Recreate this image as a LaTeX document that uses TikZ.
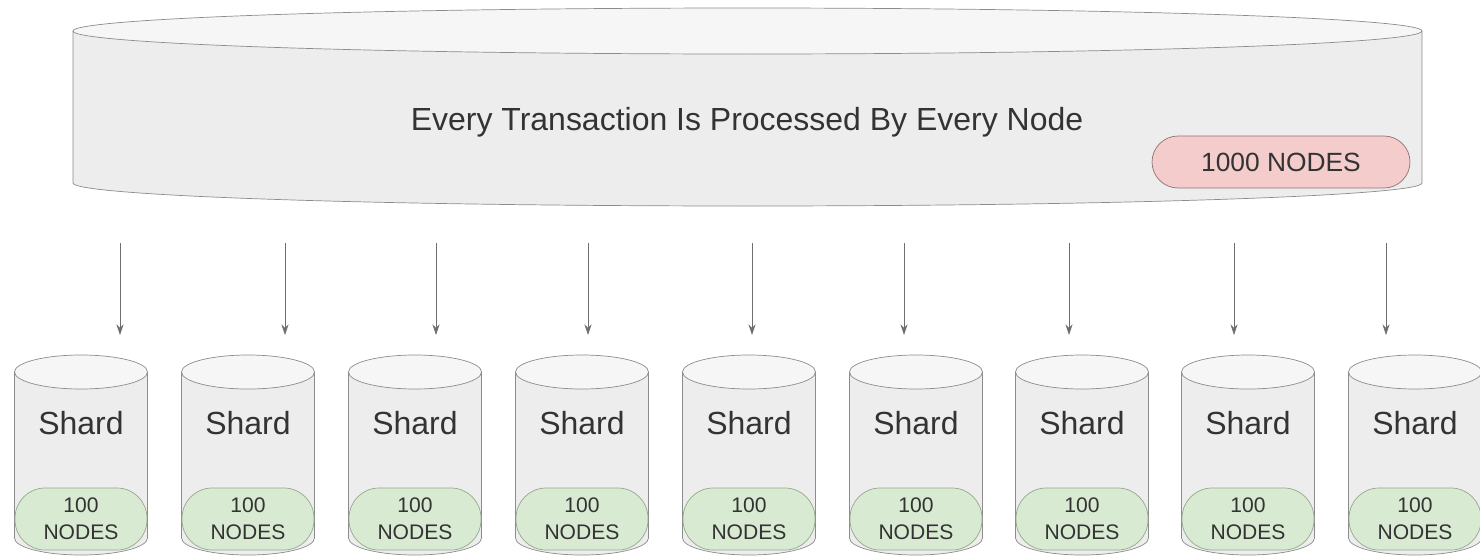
\documentclass[tikz,border=0pt]{standalone}
\usepackage{fontspec}
\setmainfont{Liberation Sans}
\usetikzlibrary{arrows.meta}

\definecolor{cylgrey}{HTML}{8C8C8C}
\definecolor{bodygrey}{HTML}{EDEDED}
\definecolor{endgrey}{HTML}{F6F6F6}
\definecolor{pillred}{HTML}{F4CCCC}
\definecolor{pillredline}{HTML}{8E7373}
\definecolor{pillgreen}{HTML}{D9EAD3}
\definecolor{pillgreenline}{HTML}{94A88C}
\definecolor{txtgrey}{HTML}{333333}
\definecolor{arrgrey}{HTML}{6E6E6E}

\tikzset{
  ledger/.style={minimum width=27.06cm, minimum height=4.06cm, inner sep=0pt,
    path picture={
      \begin{scope}[shift={(path picture bounding box.center)}]
        \fill[bodygrey] (-674.5, -76.5) -- (-674.5, 75.5)
          arc[start angle=180, end angle=0, x radius=674.5, y radius=23] -- (674.5, -76.5) -- cycle;
        \filldraw[fill=endgrey, draw=cylgrey] (0, -76.5) ellipse [x radius=674.5, y radius=23];
        \draw[cylgrey] (-674.5, -76.5) -- (-674.5, 75.5)
          arc[start angle=180, end angle=0, x radius=674.5, y radius=23] -- (674.5, -76.5);
      \end{scope}
    }},
  shard/.style={minimum width=2.7cm, minimum height=4.04cm, inner sep=0pt,
    path picture={
      \begin{scope}[shift={(path picture bounding box.center)}]
        \fill[bodygrey] (-66.5, -83) -- (-66.5, 83)
          arc[start angle=180, end angle=0, x radius=66.5, y radius=17] -- (66.5, -83) -- cycle;
        \filldraw[fill=endgrey, draw=cylgrey] (0, -83) ellipse [x radius=66.5, y radius=17];
        \draw[cylgrey] (-66.5, -83) -- (-66.5, 83)
          arc[start angle=180, end angle=0, x radius=66.5, y radius=17] -- (66.5, -83);
      \end{scope}
    }},
  bigpill/.style={draw=pillredline, fill=pillred, rounded corners=0.52cm,
    minimum width=5.16cm, minimum height=1.04cm, inner sep=0pt,
    text=txtgrey, font=\fontsize{15}{18}\selectfont},
  smallpill/.style={draw=pillgreenline, fill=pillgreen, rounded corners=0.6cm,
    minimum width=2.64cm, minimum height=1.24cm, inner sep=0pt, align=center,
    text=txtgrey, font=\fontsize{12}{15.4}\selectfont},
  txt/.style={text=txtgrey, font=\fontsize{18.2}{21}\selectfont},
  arr/.style={draw=arrgrey, -{Stealth[length=6pt,width=4pt]}}
}

\begin{document}
\begin{tikzpicture}[x=0.02cm, y=-0.02cm]

	\useasboundingbox (0, 0) rectangle (1480, 558);

	% the whole chain
	\node[ledger] (chain) at (747.5, 107.5) {};
	\node[txt] (every) at (747, 122) {Every Transaction Is Processed By Every Node};
	\node[bigpill] (all) at (1281, 162) {1000 NODES};

	% arrows into the shards
	\coordinate (t1) at (120, 243);
	\coordinate (t2) at (285, 243);
	\coordinate (t3) at (436, 243);
	\coordinate (t4) at (588, 243);
	\coordinate (t5) at (752, 243);
	\coordinate (t6) at (904, 243);
	\coordinate (t7) at (1069, 243);
	\coordinate (t8) at (1234, 243);
	\coordinate (t9) at (1386, 243);

	\draw[arr] (t1) -- ++(0, 92);
	\draw[arr] (t2) -- ++(0, 92);
	\draw[arr] (t3) -- ++(0, 92);
	\draw[arr] (t4) -- ++(0, 92);
	\draw[arr] (t5) -- ++(0, 92);
	\draw[arr] (t6) -- ++(0, 92);
	\draw[arr] (t7) -- ++(0, 92);
	\draw[arr] (t8) -- ++(0, 92);
	\draw[arr] (t9) -- ++(0, 92);

	% shards
	\node[shard] (s1) at (81, 455) {};
	\node[shard] (s2) at (248, 455) {};
	\node[shard] (s3) at (415, 455) {};
	\node[shard] (s4) at (582, 455) {};
	\node[shard] (s5) at (749, 455) {};
	\node[shard] (s6) at (916, 455) {};
	\node[shard] (s7) at (1082, 455) {};
	\node[shard] (s8) at (1248, 455) {};
	\node[shard] (s9) at (1415, 455) {};

	\node[txt] (n1) at (81, 423) {Shard};
	\node[txt] (n2) at (248, 423) {Shard};
	\node[txt] (n3) at (415, 423) {Shard};
	\node[txt] (n4) at (582, 423) {Shard};
	\node[txt] (n5) at (749, 423) {Shard};
	\node[txt] (n6) at (916, 423) {Shard};
	\node[txt] (n7) at (1082, 423) {Shard};
	\node[txt] (n8) at (1248, 423) {Shard};
	\node[txt] (n9) at (1415, 423) {Shard};

	\node[smallpill] (p1) at (81, 519) {100\\NODES};
	\node[smallpill] (p2) at (248, 519) {100\\NODES};
	\node[smallpill] (p3) at (415, 519) {100\\NODES};
	\node[smallpill] (p4) at (582, 519) {100\\NODES};
	\node[smallpill] (p5) at (749, 519) {100\\NODES};
	\node[smallpill] (p6) at (916, 519) {100\\NODES};
	\node[smallpill] (p7) at (1082, 519) {100\\NODES};
	\node[smallpill] (p8) at (1248, 519) {100\\NODES};
	\node[smallpill] (p9) at (1415, 519) {100\\NODES};

\end{tikzpicture}
\end{document}
